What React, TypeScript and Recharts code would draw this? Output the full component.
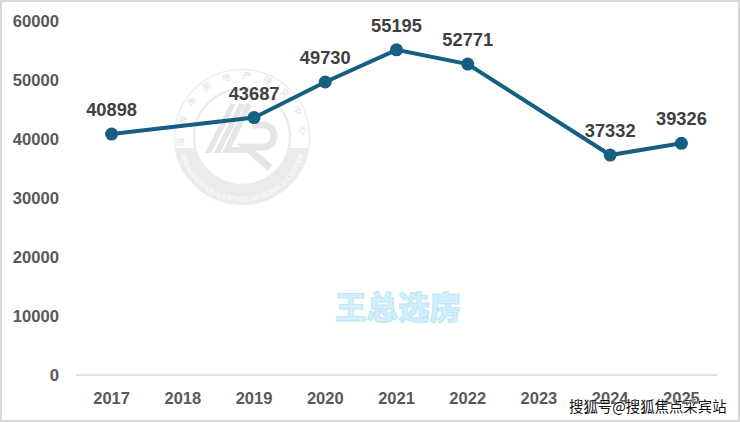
import { LineChart, Line, XAxis, YAxis, LabelList } from 'recharts';

const years = ['2017', '2018', '2019', '2020', '2021', '2022', '2023', '2024', '2025'];
const prices = [40898, null, 43687, 49730, 55195, 52771, null, 37332, 39326];
const yTicks = [0, 10000, 20000, 30000, 40000, 50000, 60000];

const data = years.map((year, i) => ({ year, price: prices[i] }));

const font = '"Liberation Sans", Arial, sans-serif';

// Faint round seal sitting behind the line
function Seal() {
  return (
    <svg
      width={140}
      height={140}
      viewBox="0 0 140 140"
      style={{ position: 'absolute', left: 171.5, top: 67, fontFamily: font }}
    >
      <defs>
        <path id="sealTop" d="M 12 70 A 58 58 0 1 1 128 70" />
        <path id="sealBottom" d="M 7 82 A 64 64 0 0 0 133 82" />
      </defs>
      <circle cx={70} cy={70} r={67.5} fill="none" stroke="#eeeeee" strokeWidth={1.5} />
      <circle cx={70} cy={70} r={48} fill="none" stroke="#ececec" strokeWidth={2.5} />
      <path d="M 3 81 A 68 68 0 0 0 137 81 L 116.7 81 A 48 48 0 0 1 23.3 81 Z" fill="#ebebeb" />
      <g fill="#e6e6e6">
        <polygon points="33,86 39,86 64,37 58,37" />
        <polygon points="42,86 48,86 73,37 67,37" />
      </g>
      <path d="M 77 37 L 55 83 L 75 83" fill="none" stroke="#e6e6e6" strokeWidth={6} />
      <path
        d="M 80 58 L 90 58 C 106 58 106 80 90 80 L 74 80 L 98 101"
        fill="none"
        stroke="#e6e6e6"
        strokeWidth={7}
      />
      <text fontSize={9} fill="#e0e0e0" letterSpacing={11} fontFamily='"Noto Sans CJK SC"'>
        <textPath href="#sealTop" startOffset="50%" textAnchor="middle">
          深圳市房地产研究中心
        </textPath>
      </text>
      <text fontSize={7.4} fill="#fafafa" fontWeight="bold">
        <textPath href="#sealBottom" startOffset="50%" textAnchor="middle">
          SHENZHEN REALESTATE RESEARCH CENTER
        </textPath>
      </text>
    </svg>
  );
}

export default function App() {
  return (
    <div
      style={{
        position: 'absolute',
        left: 0,
        top: 0,
        width: 740,
        height: 422,
        background: '#ffffff',
        overflow: 'hidden',
      }}
    >
      <Seal />
      <div style={{ position: 'absolute', left: 0, top: 0 }}>
        <LineChart
          width={740}
          height={422}
          data={data}
          margin={{ top: 21.5, right: 23, bottom: 0, left: 0 }}
        >
          <XAxis
            dataKey="year"
            height={47}
            tickLine={false}
            stroke="#d9d9d9"
            strokeWidth={1.5}
            padding={{ left: 35.6, right: 35.6 }}
            tick={{ fontSize: 16.5, fontWeight: 'bold', fill: '#595959', fontFamily: font }}
            tickMargin={11}
            interval={0}
          />
          <YAxis
            width={76}
            domain={[0, 60000]}
            ticks={yTicks}
            axisLine={false}
            tickLine={false}
            tick={{ fontSize: 16.6, fontWeight: 'bold', fill: '#595959', fontFamily: font }}
            tickMargin={11}
          />
          <Line
            type="linear"
            dataKey="price"
            stroke="#156082"
            strokeWidth={4}
            connectNulls
            dot={{ r: 6.5, fill: '#156082', stroke: 'none' }}
            isAnimationActive={false}
          >
            <LabelList
              dataKey="price"
              position="top"
              offset={18}
              style={{ fontSize: 18.3, fontWeight: 'bold', fill: '#404040', fontFamily: font }}
            />
          </Line>
        </LineChart>
      </div>
      {/* pasted-on watermarks */}
      <div
        style={{
          position: 'absolute',
          left: 335,
          top: 287,
          fontSize: 31.5,
          lineHeight: '36px',
          fontWeight: 900,
          color: '#d3effb',
          WebkitTextStroke: '1px #bce7f8',
          fontFamily: '"Noto Sans CJK SC"',
          whiteSpace: 'nowrap',
        }}
      >
        王总选房
      </div>
      <div
        style={{
          position: 'absolute',
          left: 569,
          top: 395,
          fontSize: 14.4,
          lineHeight: '22px',
          color: '#111111',
          fontFamily: '"Noto Sans CJK SC"',
          whiteSpace: 'nowrap',
          textShadow: '0 0 1px #ffffff, 0 0 2px #ffffff',
        }}
      >
        搜狐号@搜狐焦点采宾站
      </div>
      {/* screenshot frame */}
      <div
        style={{
          position: 'absolute',
          inset: 0,
          borderStyle: 'solid',
          borderColor: '#d9d9d9',
          borderWidth: '2px 2px 2px 2px',
          pointerEvents: 'none',
        }}
      />
    </div>
  );
}
